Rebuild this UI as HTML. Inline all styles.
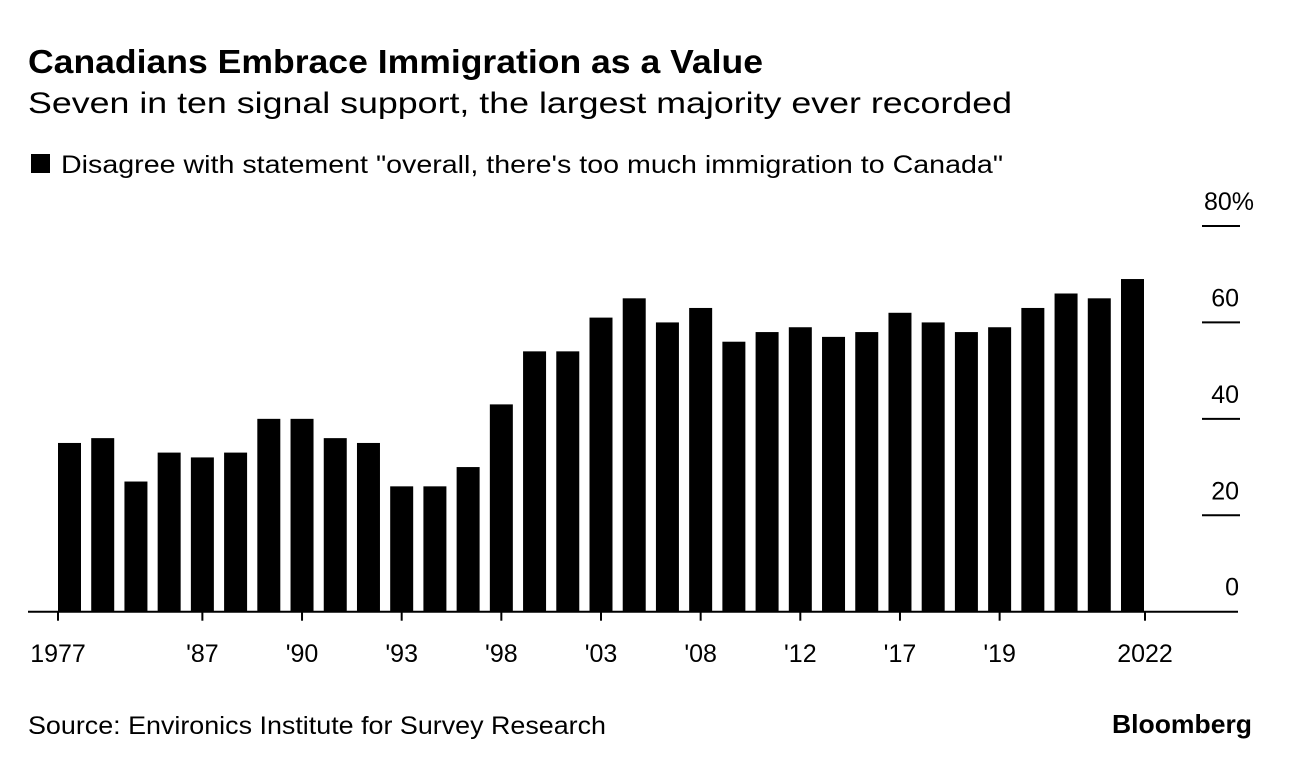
<!DOCTYPE html>
<html><head><meta charset="utf-8"><style>
body{margin:0;background:#fff;width:1292px;height:768px;overflow:hidden;font-family:"Liberation Sans",sans-serif;}
</style></head><body>
<svg width="1292" height="768" xmlns="http://www.w3.org/2000/svg" font-family="Liberation Sans, sans-serif">
<text x="28" y="73" font-size="33" font-weight="bold" textLength="735" lengthAdjust="spacingAndGlyphs">Canadians Embrace Immigration as a Value</text>
<text x="28" y="113" font-size="30" textLength="984" lengthAdjust="spacingAndGlyphs">Seven in ten signal support, the largest majority ever recorded</text>
<rect x="31" y="154" width="19" height="19" fill="#000"/>
<text x="61" y="173" font-size="25" textLength="942" lengthAdjust="spacingAndGlyphs">Disagree with statement "overall, there's too much immigration to Canada"</text>
<g id="yaxis"></g>
<g id="bars"></g>
<g id="xaxis"></g>
<text x="28" y="734" font-size="25" textLength="578" lengthAdjust="spacingAndGlyphs">Source: Environics Institute for Survey Research</text>
<text x="1252" y="733" font-size="26" font-weight="bold" text-anchor="end" textLength="140" lengthAdjust="spacingAndGlyphs">Bloomberg</text>
</svg>
<script>
const values=[35,36,27,33,32,33,40,40,36,35,26,26,30,43,54,54,61,65,60,63,56,58,59,57,58,62,60,58,59,63,66,65,69];
const yTicks=[0,20,40,60,80];
const yTickLabels=["0","20","40","60","80%"];
const xTickIdx=[0,4,7,10,13,16,19,22,25,28,32];
const xTickLabels=["1977","'87","'90","'93","'98","'03","'08","'12","'17","'19","2022"];
const NS="http://www.w3.org/2000/svg";
const y0=611.7,yTop=226,x0=58,xEnd=1144,bw=23;
const pitch=(xEnd-x0-bw)/(values.length-1);
function y(v){return y0-(v/80)*(y0-yTop);}
function xl(i){return x0+i*pitch;}
function mk(t,a,p){const e=document.createElementNS(NS,t);for(const k in a)e.setAttribute(k,a[k]);p.appendChild(e);return e;}
const gb=document.getElementById('bars');
values.forEach((v,i)=>{const r=mk('rect',{x:xl(i),y:y(v),width:bw,height:y0-y(v),fill:'#000'},gb);

});
const gy=document.getElementById('yaxis');
yTicks.forEach((v,i)=>{
 if(v>0){const l=mk('line',{x1:1202,x2:1240,y1:y(v),y2:y(v),stroke:'#000','stroke-width':2},gy);
 
 }
 const last=i===yTicks.length-1;
 const t=mk('text',{x:last?1204:1239,y:y(v)-16,'font-size':25,'text-anchor':last?'start':'end'},gy);t.textContent=yTickLabels[i];
 
 });
const gx=document.getElementById('xaxis');
const base=mk('line',{x1:28,x2:1238,y1:y0,y2:y0,stroke:'#000','stroke-width':2},gx);


xTickIdx.forEach((idx,k)=>{
 let x=xl(idx)+bw/2;
 if(k===0)x=xl(idx);
 if(k===xTickIdx.length-1)x=xl(idx)+bw+1;
 const l=mk('line',{x1:x,x2:x,y1:y0,y2:y0+9,stroke:'#000','stroke-width':2},gx);
 
 
 const t=mk('text',{x:x,y:662,'font-size':25,'text-anchor':'middle'},gx);t.textContent=xTickLabels[k];
 
 });
</script>
</body></html>
